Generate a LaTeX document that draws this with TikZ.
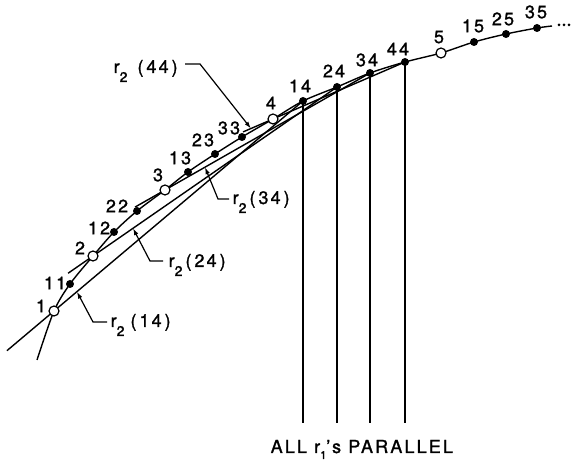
\documentclass[tikz,border=0pt]{standalone}
\usepackage{fontspec}
\setmainfont{TeX Gyre Heros}[LetterSpace=12,FakeBold=1.2]
\usetikzlibrary{calc,arrows.meta}
\newcommand{\rsub}[1]{r\raisebox{-9pt}{\fontsize{14}{14}\selectfont #1}}
\begin{document}
\begin{tikzpicture}[x=1pt,y=-1pt,line width=1.4pt,
  pfill/.style={circle,fill=black,draw=none,inner sep=0pt,minimum size=8pt},
  popen/.style={circle,fill=white,draw=black,line width=1.2pt,inner sep=0pt,minimum size=10pt},
  plbl/.style={font=\fontsize{18}{18}\selectfont,inner sep=0pt},
  rlbl/.style={font=\fontsize{18}{18}\selectfont,inner sep=0pt,anchor=base west},
  lead/.style={line width=1.2pt,-{Latex[length=7pt,width=4.5pt]}},
  dotm/.style={circle,fill=black,inner sep=0pt,minimum size=3pt}]
\useasboundingbox (0,0) rectangle (574,462);
% points on the curve
\coordinate (s0) at (37,360);
\coordinate (p1) at (54,311);
\coordinate (p11) at (70,284);
\coordinate (p2) at (93,256);
\coordinate (p12) at (114,232);
\coordinate (p22) at (137,211);
\coordinate (p3) at (165,190);
\coordinate (p13) at (188,172);
\coordinate (p23) at (215,154);
\coordinate (p33) at (242,137);
\coordinate (p4) at (273,119);
\coordinate (p14) at (303,101);
\coordinate (p24) at (337,87);
\coordinate (p34) at (370,73);
\coordinate (p44) at (405,62);
\coordinate (p5) at (441,53);
\coordinate (p15) at (474,42);
\coordinate (p25) at (506,34);
\coordinate (p35) at (537,28);
\coordinate (e0) at (552,26);
% main curve
\draw[line join=round] plot[smooth,tension=0.5] coordinates {(37,360) (54,311) (70,284) (93,256) (114,232) (137,211) (165,190) (188,172) (215,154) (242,137) (273,119) (303,101) (337,87) (370,73) (405,62) (441,53) (474,42) (506,34) (537,28) (552,26)};
% chords r2
\draw ($(p1)!-0.189!(p14)$) -- (p14);
\draw ($(p2)!-0.102!(p24)$) -- (p24);
\draw ($(p3)!-0.146!(p34)$) -- (p34);
\draw ($(p4)!-0.227!(p44)$) -- (p44);
% parallel r1 lines
\coordinate (b14) at (303,423);
\coordinate (b24) at (337,423);
\coordinate (b34) at (370,423);
\coordinate (b44) at (405,423);
\draw (p14) -- (b14);
\draw (p24) -- (b24);
\draw (p34) -- (b34);
\draw (p44) -- (b44);
% markers
\foreach \n in {p1,p2,p3,p4,p5} \node[popen] (m\n) at (\n) {};
\foreach \n in {p11,p12,p22,p13,p23,p33,p14,p24,p34,p44,p15,p25,p35} \node[pfill] (m\n) at (\n) {};
% continuation dots
\node[dotm] (d1) at (559,25) {};
\node[dotm] (d2) at (564,25) {};
\node[dotm] (d3) at (569,25) {};
% point labels
\node[plbl] (n1) at (41,306) {1};
\node[plbl] (n11) at (55,283) {11};
\node[plbl] (n2) at (80,248) {2};
\node[plbl] (n12) at (99,228) {12};
\node[plbl] (n22) at (117,206) {22};
\node[plbl] (n3) at (158,175) {3};
\node[plbl] (n13) at (180,158) {13};
\node[plbl] (n23) at (203,140) {23};
\node[plbl] (n33) at (229,128) {33};
\node[plbl] (n4) at (271,103) {4};
\node[plbl] (n14) at (300,86) {14};
\node[plbl] (n24) at (334,71) {24};
\node[plbl] (n34) at (367,60) {34};
\node[plbl] (n44) at (398,49) {44};
\node[plbl] (n5) at (439,37) {5};
\node[plbl] (n15) at (473,26) {15};
\node[plbl] (n25) at (503,19) {25};
\node[plbl] (n35) at (536,12) {35};
% r2 labels
\node[rlbl] (l44) at (113,73) {\rsub{2}\hspace{10pt}(\,44\,)};
\node[rlbl] (l34) at (232,204) {\rsub{2}\hspace{3pt}(\,34\,)};
\node[rlbl] (l24) at (168,267) {\rsub{2}\hspace{3pt}(\,24\,)};
\node[rlbl] (l14) at (110,327) {\rsub{2}\hspace{6pt}(\,14\,)};
% leaders
\coordinate (t14) at ($(p1)!0.092!(p14)$);
\coordinate (t24) at ($(p2)!0.164!(p24)$);
\coordinate (t34) at ($(p3)!0.195!(p34)$);
\coordinate (t44) at ($(p4)!-0.167!(p44)$);
\coordinate (k14) at (93,322);
\coordinate (k24) at (150,261);
\coordinate (k34) at (218,199);
\coordinate (k44) at (200,64);
\draw[lead] (107,322) -- (k14) -- (t14);
\draw[lead] (163,261) -- (k24) -- (t24);
\draw[lead] (229,199) -- (k34) -- (t34);
\draw[lead] (185,64) -- (k44) -- (t44);
% bottom text
\node[rlbl] (all) at (270,453) {ALL r\raisebox{-6pt}{\fontsize{11}{11}\selectfont 1}'s PARALLEL};
\end{tikzpicture}
\end{document}
